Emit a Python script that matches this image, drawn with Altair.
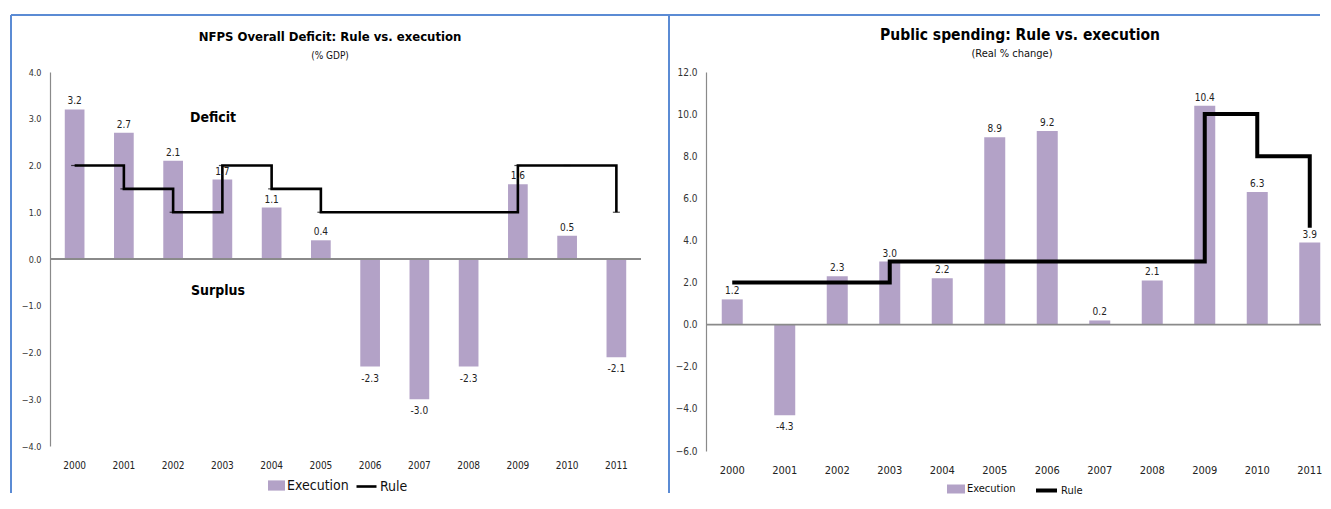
import altair as alt
import pandas as pd

years = [str(y) for y in range(2000, 2012)]
deficit_exec = [3.2, 2.7, 2.1, 1.7, 1.1, 0.4, -2.3, -3.0, -2.3, 1.6, 0.5, -2.1]
deficit_rule = [2.0, 1.5, 1.0, 2.0, 1.5, 1.0, 1.0, 1.0, 1.0, 2.0, 2.0, 1.0]
spend_exec = [1.2, -4.3, 2.3, 3.0, 2.2, 8.9, 9.2, 0.2, 2.1, 10.4, 6.3, 3.9]
spend_rule = [2.0, 2.0, 2.0, 3.0, 3.0, 3.0, 3.0, 3.0, 3.0, 10.0, 8.0, 4.6]
left_ticks = [4.0, 3.0, 2.0, 1.0, 0.0, -1.0, -2.0, -3.0, -4.0]
right_ticks = [12.0, 10.0, 8.0, 6.0, 4.0, 2.0, 0.0, -2.0, -4.0, -6.0]

PURPLE = "#b3a2c7"
BLUE = "#5b8bd4"
FONT = "Liberation Sans Narrow, Arial Narrow, DejaVu Sans Condensed, sans-serif"


def one(text):
    return alt.Data(values=[{"t": text}])


def panel(exec_vals, rule_vals, ydomain, yticks, W, H, cfg):
    df = pd.DataFrame({
        "year": years,
        "value": exec_vals,
        "rule": rule_vals,
        "label": [f"{v:.1f}" for v in exec_vals],
        "series": "Execution",
        "rseries": "Rule",
    })
    base = alt.Chart(df)
    x = alt.X("year:N", scale=alt.Scale(paddingInner=0.6, paddingOuter=cfg["po"], align=cfg["al"]),
              axis=alt.Axis(title=None, labelAngle=0, domain=False, ticks=False,
                            labelPadding=cfg["xpad"], labelFontSize=cfg["xfs"],
                            labelColor="#222222", labelFont=FONT))
    y = alt.Y("value:Q", scale=alt.Scale(domain=ydomain, nice=False, zero=False),
              axis=alt.Axis(title=None, values=yticks, format=".1f", grid=False,
                            ticks=False, domainColor="#8a8a8a", domainWidth=1.2,
                            labelPadding=9, labelFontSize=cfg["yfs"],
                            labelColor="#333333", labelFont=FONT))
    bars = base.mark_bar().encode(
        x=x, y=y, y2=alt.datum(0),
        fill=alt.Fill("series:N", scale=alt.Scale(domain=["Execution"], range=[PURPLE]),
                      legend=alt.Legend(orient="none", legendX=cfg["lx1"], legendY=cfg["ly"],
                                        title=None, direction="horizontal",
                                        symbolType=cfg["sq"], symbolSize=cfg["sqsize"],
                                        symbolStrokeWidth=0, labelFontSize=cfg["lfs"],
                                        labelOffset=2, labelColor="#111111", labelFont=FONT)))
    zero = alt.Chart(one("z")).mark_rule(color="#8a8a8a", strokeWidth=1.8).encode(y=alt.datum(0))
    line = base.mark_line(interpolate="step-after", strokeWidth=cfg["lw"]).encode(
        x="year:N", y="rule:Q",
        stroke=alt.Stroke("rseries:N", scale=alt.Scale(domain=["Rule"], range=["#000000"]),
                          legend=alt.Legend(orient="none", legendX=cfg["lx2"], legendY=cfg["ly"] - 2,
                                            title=None, direction="horizontal",
                                            symbolType="stroke", symbolSize=cfg["lnsize"],
                                            symbolStrokeWidth=cfg["lw"], labelFontSize=cfg["lfs"],
                                            labelOffset=2, labelColor="#111111", labelFont=FONT)))
    pos = base.transform_filter("datum.value >= 0").mark_text(
        dy=-8, fontSize=cfg["dfs"], color="#222222", font=FONT).encode(x="year:N", y="value:Q", text="label:N")
    neg = base.transform_filter("datum.value < 0").mark_text(
        dy=12, fontSize=cfg["dfs"], color="#222222", font=FONT).encode(x="year:N", y="value:Q", text="label:N")
    title = alt.Chart(one(cfg["title"])).mark_text(
        fontSize=cfg["tfs"], fontWeight="bold", font=FONT, color="#000000").encode(
        text="t:N", x=alt.value(cfg["tx"]), y=alt.value(cfg["ty"]))
    sub = alt.Chart(one(cfg["sub"])).mark_text(
        fontSize=cfg["sfs"], font=FONT, color="#111111").encode(
        text="t:N", x=alt.value(cfg["sx"]), y=alt.value(cfg["sy"]))
    # panel frame: top and left edges only (the rest lies outside the picture)
    top_edge = alt.Chart(one("b")).mark_rule(color=BLUE, strokeWidth=2).encode(
        x=alt.value(cfg["bx"]), x2=alt.value(cfg["bx2"]), y=alt.value(-57))
    left_edge = alt.Chart(one("b")).mark_rule(color=BLUE, strokeWidth=2).encode(
        x=alt.value(cfg["bx"]), y=alt.value(-57), y2=alt.value(421))
    layers = [top_edge, left_edge, bars, zero, line]
    if cfg.get("ticks"):
        layers.append(base.mark_tick(color="#000000", size=7, thickness=1.2).encode(x="year:N", y="rule:Q"))
    layers += [pos, neg, title, sub]
    for txt, ax, ay in cfg.get("notes", []):
        layers.append(alt.Chart(one(txt)).mark_text(fontSize=14, fontWeight="bold", font=FONT,
                                                    color="#000000").encode(
            text="t:N", x=alt.value(ax), y=alt.value(ay)))
    return alt.layer(*layers).properties(width=W, height=H)


left = panel(deficit_exec, deficit_rule, [-4, 4], left_ticks, 591, 374, dict(
    po=0.3, al=0.5, xpad=14, xfs=10, yfs=9, lx1=218, lx2=305, ly=405,
    sq="M-1,-0.6H1V0.6H-1Z", sqsize=289, lnsize=400, lw=2.6, lfs=14, dfs=10,
    title="NFPS Overall Deficit: Rule vs. execution", tfs=13, tx=280, ty=-35,
    sub="(% GDP)", sfs=10, sx=280, sy=-16, bx=-39, bx2=619, ticks=True,
    notes=[("Deficit", 163, 46), ("Surplus", 168, 219)]))

right = panel(spend_exec, spend_rule, [-6, 12], right_ticks, 615, 379, dict(
    po=0.157, al=0.955, xpad=13, xfs=11, yfs=10, lx1=241, lx2=328, ly=408,
    sq="M-1,-0.5H1V0.5H-1Z", sqsize=324, lnsize=441, lw=4, lfs=11, dfs=10,
    title="Public spending: Rule vs. execution", tfs=15.5, tx=314, ty=-37,
    sub="(Real % change)", sfs=11, sx=306, sy=-18, bx=-37, bx2=614))

chart = alt.hconcat(left, right, spacing=65, bounds="flush").resolve_scale(
    x="independent", y="independent", fill="independent", stroke="independent"
).resolve_legend(fill="independent", stroke="independent").properties(
    padding={"left": 2, "top": 6, "right": 0, "bottom": 0}
).configure_view(strokeWidth=0)

chart.save("out.html", embed_options={"renderer": "svg", "actions": False})
